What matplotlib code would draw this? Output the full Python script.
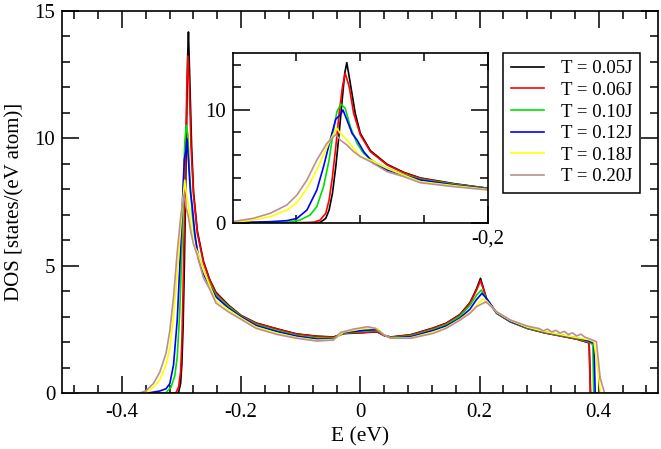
import numpy as np
import matplotlib
matplotlib.use("Agg")
import matplotlib.pyplot as plt
from matplotlib.ticker import MultipleLocator, FixedLocator, FixedFormatter

plt.rcParams['font.family'] = ['Liberation Serif', 'DejaVu Serif']

# DOS curves, one (E, DOS) list per temperature
labels = ['T = 0.05J', 'T = 0.06J', 'T = 0.10J', 'T = 0.12J', 'T = 0.18J', 'T = 0.20J']
colors = ['black', '#ff0000', '#00e000', '#0000ff', '#ffff00', '#bc8f8f']

e_005 = [-0.5, -0.312, -0.3051, -0.3016, -0.2995, -0.2974, -0.2953, -0.2932, -0.2911, -0.2897,
         -0.2884, -0.2862, -0.2831, -0.2799, -0.2736, -0.2631, -0.2527, -0.2422, -0.2212, -0.2,
         -0.175, -0.14, -0.107, -0.073, -0.045, -0.028, 0.006, 0.028, 0.040, 0.051, 0.085,
         0.122, 0.144, 0.167, 0.184, 0.195, 0.2016, 0.2118, 0.2287, 0.2513, 0.2795, 0.3077,
         0.3359, 0.3641, 0.3838, 0.3852, 0.3862, 0.5]
dos_005 = [0, 0, 0.03, 0.38, 1.12, 2.6, 4.96, 7.91, 11.16, 13.23,
           14.17, 12.34, 9.69, 7.91, 6.38, 5.17, 4.46, 3.96, 3.46, 3.05,
           2.76, 2.53, 2.33, 2.24, 2.21, 2.34, 2.38, 2.41, 2.27, 2.21, 2.30,
           2.56, 2.75, 3.09, 3.56, 4.10, 4.51, 3.70, 3.14, 2.81, 2.55, 2.38,
           2.25, 2.12, 1.98, 1.0, 0, 0]

e_006 = [-0.5, -0.315, -0.3093, -0.3051, -0.3016, -0.2995, -0.2974, -0.2953, -0.2932, -0.2911,
         -0.2894, -0.2869, -0.2841, -0.2799, -0.2736, -0.2631, -0.2527, -0.2422, -0.2212, -0.2,
         -0.175, -0.14, -0.107, -0.073, -0.045, -0.028, 0.006, 0.028, 0.040, 0.051, 0.085,
         0.122, 0.144, 0.167, 0.184, 0.195, 0.2016, 0.2118, 0.2287, 0.2513, 0.2795, 0.3077,
         0.3359, 0.3641, 0.3838, 0.3848, 0.3858, 0.5]
dos_006 = [0, 0, 0.03, 0.24, 0.83, 2.01, 4.08, 6.73, 9.69, 12.05,
           13.23, 12.05, 9.69, 7.77, 6.29, 5.11, 4.43, 3.93, 3.43, 3.05,
           2.75, 2.52, 2.32, 2.23, 2.20, 2.35, 2.39, 2.42, 2.26, 2.20, 2.29,
           2.55, 2.74, 3.07, 3.53, 4.05, 4.42, 3.70, 3.14, 2.81, 2.55, 2.38,
           2.25, 2.12, 1.98, 1.0, 0, 0]

e_010 = [-0.5, -0.332, -0.3260, -0.3177, -0.3114, -0.3072, -0.3030, -0.2995, -0.2967, -0.2946,
         -0.2921, -0.2894, -0.2862, -0.2820, -0.2778, -0.2716, -0.2631, -0.2527, -0.2422, -0.2212,
         -0.2, -0.175, -0.14, -0.107, -0.073, -0.045, -0.028, 0.006, 0.028, 0.040, 0.051,
         0.085, 0.122, 0.144, 0.167, 0.184, 0.195, 0.203, 0.2118, 0.2287, 0.2513, 0.2795,
         0.3077, 0.3359, 0.3641, 0.3838, 0.3900, 0.3915, 0.5]
dos_010 = [0, 0, 0.03, 0.24, 0.68, 1.42, 3.19, 5.55, 8.21, 9.83,
           10.51, 10.13, 8.5, 7.03, 6.14, 5.41, 4.81, 4.28, 3.84, 3.40,
           3.02, 2.70, 2.46, 2.27, 2.17, 2.16, 2.36, 2.44, 2.47, 2.28, 2.19,
           2.25, 2.50, 2.69, 3.02, 3.45, 3.85, 4.05, 3.70, 3.15, 2.82, 2.56,
           2.40, 2.27, 2.15, 2.02, 1.9, 0, 0]

e_012 = [-0.5, -0.3596, -0.3365, -0.3260, -0.3197, -0.3134, -0.3072, -0.3030, -0.2988, -0.2953,
         -0.2925, -0.2908, -0.2883, -0.2851, -0.2820, -0.2778, -0.2716, -0.2631, -0.2527, -0.2422,
         -0.2212, -0.2, -0.175, -0.14, -0.107, -0.073, -0.045, -0.028, 0.006, 0.028, 0.040,
         0.051, 0.085, 0.122, 0.144, 0.167, 0.184, 0.195, 0.204, 0.2118, 0.2287, 0.2513,
         0.2795, 0.3077, 0.3359, 0.3641, 0.3838, 0.3920, 0.3940, 0.5]
dos_012 = [0, 0, 0.09, 0.18, 0.38, 1.12, 2.89, 4.96, 7.33, 9.18,
           9.54, 9.98, 9.1, 7.91, 7.33, 6.29, 5.26, 4.67, 4.22, 3.78,
           3.34, 3.0, 2.66, 2.42, 2.24, 2.13, 2.13, 2.38, 2.47, 2.50, 2.28,
           2.17, 2.22, 2.46, 2.64, 2.95, 3.30, 3.68, 3.92, 3.72, 3.16, 2.83,
           2.58, 2.42, 2.29, 2.17, 2.05, 1.95, 0, 0]

e_018 = [-0.5, -0.372, -0.3596, -0.3470, -0.3365, -0.3260, -0.3197, -0.3134, -0.3072, -0.3030,
         -0.2988, -0.2946, -0.2925, -0.2883, -0.2841, -0.2799, -0.2736, -0.2631, -0.2527, -0.2422,
         -0.2212, -0.2, -0.175, -0.14, -0.107, -0.073, -0.045, -0.028, 0.006, 0.028, 0.040,
         0.051, 0.085, 0.122, 0.144, 0.167, 0.184, 0.195, 0.205, 0.2118, 0.2287, 0.2513,
         0.2795, 0.3077, 0.3359, 0.3641, 0.3838, 0.3920, 0.3990, 0.4030, 0.5]
dos_018 = [0, 0, 0.03, 0.24, 0.53, 1.12, 1.77, 3.04, 4.67, 6.0,
           7.33, 8.36, 7.91, 7.33, 6.59, 5.85, 5.55, 4.81, 4.22, 3.63,
           3.28, 2.95, 2.60, 2.36, 2.19, 2.08, 2.11, 2.40, 2.55, 2.55, 2.29,
           2.16, 2.18, 2.40, 2.58, 2.90, 3.18, 3.45, 3.69, 3.62, 3.18, 2.86,
           2.60, 2.43, 2.30, 2.18, 2.10, 2.02, 0.8, 0, 0]

e_020 = [-0.5, -0.372, -0.3596, -0.3470, -0.3365, -0.3260, -0.3197, -0.3134, -0.3072,
         -0.3009, -0.2953, -0.2925, -0.2883, -0.2841, -0.2799, -0.2736, -0.2631, -0.2527, -0.2422,
         -0.2212, -0.2, -0.175, -0.14, -0.107, -0.073, -0.045, -0.033, -0.011, 0.012, 0.025,
         0.040, 0.051, 0.085, 0.122, 0.144, 0.167, 0.184, 0.195, 0.2107, 0.2287, 0.2513,
         0.2795, 0.300, 0.307, 0.314, 0.321, 0.328, 0.335, 0.342, 0.349, 0.356, 0.363,
         0.370, 0.377, 0.3838, 0.3960, 0.4024, 0.4100, 0.5]
dos_020 = [0, 0, 0.1, 0.39, 0.83, 1.57, 2.45, 3.78, 5.55,
           7.03, 7.82, 7.32, 6.88, 6.29, 5.85, 5.41, 4.52, 4.08, 3.54,
           3.19, 2.90, 2.55, 2.31, 2.16, 2.05, 2.09, 2.39, 2.52, 2.61, 2.55,
           2.29, 2.16, 2.16, 2.35, 2.55, 2.87, 3.14, 3.40, 3.59, 3.20, 2.88,
           2.64, 2.54, 2.45, 2.52, 2.41, 2.47, 2.36, 2.43, 2.31, 2.37, 2.25,
           2.32, 2.20, 2.14, 2.03, 0.6, 0, 0]

series_e = [e_005, e_006, e_010, e_012, e_018, e_020]
series_dos = [dos_005, dos_006, dos_010, dos_012, dos_018, dos_020]


def style_axis(ax):
    ax.tick_params(which='both', direction='in', top=True, right=True, width=1.1)
    ax.tick_params(which='major', length=12)
    ax.tick_params(which='minor', length=6)
    for sp in ax.spines.values():
        sp.set_linewidth(1.2)


fig = plt.figure(figsize=(6.61, 4.49), dpi=100)
ax = fig.add_axes([0.0943, 0.124, 0.9017, 0.852])

lines = []
for e, d, c, lab in zip(series_e, series_dos, colors, labels):
    ln, = ax.plot(e, d, color=c, lw=1.2, label=lab)
    lines.append(ln)

ax.set_xlim(-0.5, 0.5)
ax.set_ylim(0, 15)
ax.xaxis.set_major_locator(FixedLocator([-0.4, -0.2, 0.0, 0.2, 0.4]))
ax.xaxis.set_major_formatter(FixedFormatter(['-0.4', '-0.2', '0', '0.2', '0.4']))
ax.xaxis.set_minor_locator(FixedLocator([-0.48, -0.44, -0.36, -0.32, -0.28, -0.24, -0.16, -0.12,
                                         -0.08, -0.04, 0.04, 0.08, 0.12, 0.16, 0.24, 0.28,
                                         0.32, 0.36, 0.44, 0.48]))
ax.yaxis.set_major_locator(MultipleLocator(5))
ax.yaxis.set_minor_locator(MultipleLocator(1))
style_axis(ax)
ax.tick_params(which='major', labelsize=15)
ax.tick_params(axis='x', which='major', pad=7)
ax.tick_params(axis='y', which='major', pad=5)
ax.set_xlabel('E (eV)', fontsize=15.5, labelpad=4)
ax.set_ylabel('DOS [states/(eV atom)]', fontsize=15, labelpad=7)

leg = fig.legend(handles=lines, loc='upper right', bbox_to_anchor=(0.9675, 0.8826),
                 borderaxespad=0, fontsize=13.5, frameon=True, fancybox=False,
                 edgecolor='black', framealpha=1, handlelength=1.75, handletextpad=0.9,
                 labelspacing=0.24, borderpad=0.4)
leg.get_frame().set_linewidth(1.1)

# inset zoom on the lower band edge
axi = fig.add_axes([0.352, 0.504, 0.3858, 0.3773])
for e, d, c in zip(series_e, series_dos, colors):
    axi.plot(e, d, color=c, lw=1.2)
axi.set_xlim(-0.36, -0.2)
axi.set_ylim(0, 15)
axi.xaxis.set_major_locator(FixedLocator([-0.2]))
axi.xaxis.set_major_formatter(FixedFormatter(['-0,2']))
axi.xaxis.set_minor_locator(FixedLocator([-0.32, -0.28, -0.24]))
axi.yaxis.set_major_locator(MultipleLocator(10))
axi.yaxis.set_minor_locator(MultipleLocator(2))
style_axis(axi)
axi.tick_params(which='major', labelsize=15, pad=5)

fig.savefig('out.png', dpi=100)
